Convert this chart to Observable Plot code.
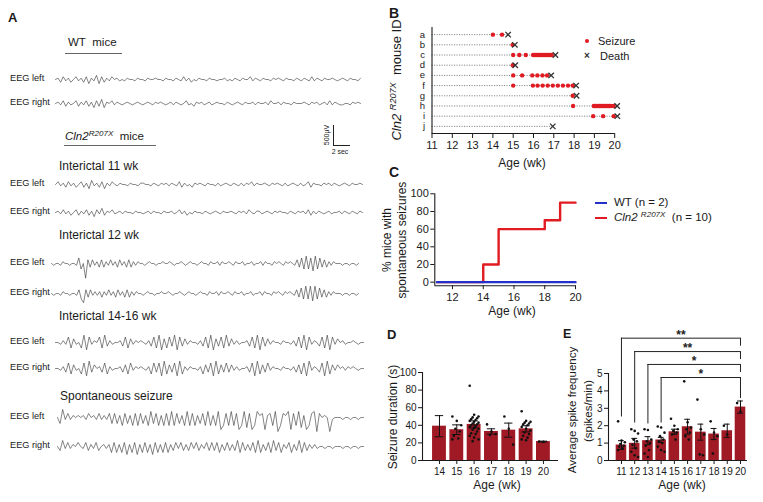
<!DOCTYPE html>
<html><head><meta charset="utf-8">
<script src="https://cdn.jsdelivr.net/npm/d3@7"></script>
<script src="https://cdn.jsdelivr.net/npm/@observablehq/plot@0.6"></script>
<style>
body{margin:0;background:#fff;}
#fig{position:relative;width:763px;height:502px;overflow:hidden;font-family:"Liberation Sans",Arial,sans-serif;color:#1a1a1a;background:#fff}
.t{position:absolute;white-space:nowrap;line-height:1}
.p{position:absolute}
.p svg{display:block;overflow:visible}
sup{font-size:0.7em;vertical-align:0.5em;line-height:0}
</style></head><body><div id="fig"></div>
<script>
// ---------------- DATA ----------------
// Panel A: EEG traces, one char per sample (digit d -> d-5; a..e -> -6..-10; A..E -> +5..+9)
const eegWTLeft   = "563746357463726482736475645465546554655655465546547463546554655455645465465574654655465654655465465474654655654565465546";
const eegWTRight  = "564736457364736273826574654565456545654656545646545745365645645655465456546556465564755646554655565465645647465445546565";
const eeg11Left   = "574637463573628463726475465546554665546546564654736453656546554645654654646574655654656546456546457365546564654565465565";
const eeg11Right  = "564746357364736274836574564655465545646554655645746354655465456546556546564754664565465655465465647364654564556465465465";
const eeg12Left   = "545546554554825c737463736474637463736465545655455655654556545655456554655646556546556455645564655465654656547382928192837364655545545545";
const eeg12Right  = "545546554554720737464636474637463736465545655455655654556545655456554655646556546556455645564655465654656547382929192837364655545545545";
const eeg1416Left = "554648274529184658293645563827465654638291728391837465546382917382937464556382918374655465546382918465382918475645565455";
const eeg1416Right= "554638274528193756382645563728465654628381927381926465546273819273837464556381927384655465546372819465381927475646565455";
const eegSzLeft   = "529474656564756474647272617261717261827161718172618171627181618a171817a1807a1867a6718b1768a71806a178b7565b4555455455455";
const eegSzRight  = "538474657547364735646272627162716272617262726374736374736473737263736382736372826372837264726382736464554554555455455455";

// Panel B: seizure onsets and death (weeks) per mouse
const mouseIds = ["a","b","c","d","e","f","g","h","i","j"];
const deathWeek = [14.75, 15.08, 17.08, 15.1, 16.87, 18.1, 18.12, 20.12, 20.13, 16.95];
const seizureA = [14.0, 14.45];
const seizureB = [14.97];
const seizureC = [15.0, 15.3, 15.62, 15.98, 16.05, 16.12, 16.19, 16.26, 16.33, 16.4, 16.47, 16.54, 16.61, 16.68, 16.75, 16.82, 16.9];
const seizureD = [14.98];
const seizureE = [15.0, 15.44, 15.94, 16.19, 16.44, 16.67];
const seizureF = [15.0, 15.97, 16.2, 16.45, 16.7, 16.95, 17.2, 17.45, 17.7, 17.93];
const seizureG = [17.93];
const seizureH = [17.95, 18.97, 19.04, 19.11, 19.18, 19.25, 19.32, 19.39, 19.46, 19.53, 19.6, 19.67, 19.74, 19.81, 19.95];
const seizureI = [18.94, 19.43, 19.95];
const seizureJ = [];
const ageTicksB = [11,12,13,14,15,16,17,18,19,20];

// Panel C: % mice with spontaneous seizures
const cStepWeeks = [11, 14, 15, 18, 19, 20];
const cCln2Pct = [0, 20, 60, 70, 90, 90];
const cWTWeeks = [11, 20];
const cWTPct = [0, 0];
const cXTicks = [12, 14, 16, 18, 20];
const cYTicks = [0, 20, 40, 60, 80, 100];

// Panel D: seizure duration (s)
const dWeeks = [14, 15, 16, 17, 18, 19, 20];
const dMean = [39, 35, 41, 33, 34.5, 36, 21.5];
const dSem = [12, 5.5, 4, 3, 8, 3.5, 0.5];
const dPoints = [
  [],
  [50, 45, 40, 36, 33, 28, 25, 24],
  [85, 52, 50, 49, 48, 47, 46, 45, 44, 43, 42, 41, 40, 39, 38, 37, 36, 35, 33, 31, 30, 28, 26, 24, 22],
  [41, 33, 30, 29],
  [50, 36, 18],
  [56, 45, 44, 43, 42, 41, 40, 38, 36, 34, 32, 30, 28, 26, 24, 23],
  [21.5, 21]
];
const dYTicks = [0, 20, 40, 60, 80, 100];

// Panel E: average spike frequency (spikes/min)
const eWeeks = [11, 12, 13, 14, 15, 16, 17, 18, 19, 20];
const eMean = [0.89, 0.99, 1.14, 1.18, 1.65, 1.94, 1.63, 1.52, 1.71, 3.07];
const eSem = [0.25, 0.28, 0.23, 0.15, 0.15, 0.43, 0.46, 0.32, 0.38, 0.35];
const ePoints = [
  [2.25, 1.15, 1.05, 0.95, 0.85, 0.8, 0.7, 0.6],
  [1.8, 1.7, 1.55, 1.2, 1.1, 0.9, 0.7, 0.5, 0.3, 0.2],
  [1.8, 1.75, 1.2, 1.1, 1.0, 0.85, 0.6, 0.4, 0.2],
  [1.95, 1.9, 1.6, 1.4, 1.2, 1.1, 1.0, 0.8, 0.6, 0.5],
  [2.4, 2.0, 1.8, 1.7, 1.6, 1.5, 1.2],
  [4.55, 2.2, 1.9, 1.8, 1.6, 1.4, 1.2],
  [3.5, 1.8, 1.5, 0.35, 0.3],
  [2.25, 1.6, 1.4, 0.4],
  [2.0, 1.5],
  [3.3, 2.8]
];
const eYTicks = [0, 1, 2, 3, 4, 5];
const bracketFrom = [11, 12, 13, 14];
const bracketTop = [7.03, 6.26, 5.52, 4.77];
const bracketLeftEnd = [2.5, 2.15, 2.1, 2.15];
const bracketRightEnd = [6.57, 5.8, 5.06, 3.56];
const bracketLabel = ["**", "**", "*", "*"];

// ---------------- HELPERS ----------------
const fig = document.getElementById("fig");
const FONT = '"Liberation Sans", Arial, sans-serif';
const RED = "#e01b22", BLUE = "#2431c8", BAR = "#a01a25", INK = "#1a1a1a";

function txt(x, y, html, {size = 12, weight = "normal", anchor = "start", rotate = 0, color = INK} = {}) {
  const d = document.createElement("div");
  d.className = "t";
  d.innerHTML = html;
  d.style.left = x + "px"; d.style.top = y + "px";
  d.style.fontSize = size + "px"; d.style.fontWeight = weight; d.style.color = color;
  if (rotate) {
    d.style.transform = `translate(-50%,-50%) rotate(${rotate}deg)`;
  } else {
    const tx = anchor === "middle" ? "-50%" : anchor === "end" ? "-100%" : "0";
    d.style.transform = `translate(${tx},-50%)`;
  }
  fig.appendChild(d);
  return d;
}
function box(x, y, w, h, css) {
  const d = document.createElement("div");
  d.style.position = "absolute";
  d.style.left = x + "px"; d.style.top = y + "px"; d.style.width = w + "px"; d.style.height = h + "px";
  Object.assign(d.style, css);
  fig.appendChild(d);
}
function place(el, left, top) {
  const w = document.createElement("div");
  w.className = "p"; w.style.left = left + "px"; w.style.top = top + "px";
  w.appendChild(el);
  fig.appendChild(w);
}
const style = (fs) => ({fontFamily: FONT, fontSize: fs + "px", color: INK, background: "transparent", overflow: "visible"});
const decode = c => (c >= "0" && c <= "9") ? (+c - 5) : (c >= "a" && c <= "e") ? -(c.charCodeAt(0) - 91) : (c.charCodeAt(0) - 60);

// ---------------- PANEL A ----------------
txt(8, 17, "A", {size: 13, weight: "bold"});
txt(68, 43, "WT&nbsp; mice", {size: 11.5});
box(65, 53, 57, 0, {borderTop: "1.4px solid #666"});
txt(65, 137, "<i>Cln2</i><sup><i>R207X</i></sup>&nbsp; mice", {size: 11.5});
box(64, 145, 92, 0, {borderTop: "1.4px solid #666"});
// scale bar
box(333, 125, 0, 20, {borderLeft: "1.2px solid #222"});
box(333, 144.5, 17, 0, {borderTop: "1.2px solid #222"});
txt(326, 135, "500µV", {size: 7, rotate: -90});
txt(340, 151, "2 sec", {size: 7, anchor: "middle"});

txt(59, 166, "Interictal 11 wk", {size: 12});
txt(59, 235, "Interictal 12 wk", {size: 12});
txt(59, 316, "Interictal 14-16 wk", {size: 12});
txt(60, 396, "Spontaneous seizure", {size: 12});

// [samples, label, centre y, left x, width, half-range of the y domain]
const traces = [
  [eegWTLeft, "EEG left", 79, 55, 305, 16],
  [eegWTRight, "EEG right", 103, 55, 305, 16],
  [eeg11Left, "EEG left", 184, 55, 307, 16],
  [eeg11Right, "EEG right", 212, 55, 307, 16],
  [eeg12Left, "EEG left", 263, 51, 307, 12],
  [eeg12Right, "EEG right", 293, 51, 307, 12],
  [eeg1416Left, "EEG left", 342, 55, 308, 12],
  [eeg1416Right, "EEG right", 368, 55, 308, 12],
  [eegSzLeft, "EEG left", 417, 57, 306, 11],
  [eegSzRight, "EEG right", 446, 57, 306, 11]
];
for (const [s, lab, cy, x0, w, half] of traces) {
  txt(10, cy, lab, {size: 9.2});
  const vals = Array.from(s, decode);
  const p = Plot.plot({
    width: w, height: 44, margin: 0,
    x: {domain: [0, vals.length - 1], axis: null},
    y: {domain: [-half, half], axis: null},
    style: style(10),
    marks: [Plot.lineY(vals, {stroke: "#333", strokeWidth: 0.6})]
  });
  place(p, x0, cy - 22);
}

// ---------------- PANEL B ----------------
txt(389, 13, "B", {size: 14, weight: "bold"});
const seizureLists = [seizureA, seizureB, seizureC, seizureD, seizureE, seizureF, seizureG, seizureH, seizureI, seizureJ];
const seizures = seizureLists.flatMap((l, i) => l.map(w => ({w, row: i})));
const deaths = deathWeek.map((w, i) => ({w, row: i}));
const plotB = Plot.plot({
  width: 250, height: 175, marginLeft: 51.5, marginRight: 15.8, marginTop: 27, marginBottom: 42,
  style: style(11),
  x: {domain: [11, 20], ticks: ageTicksB, tickSize: 5, tickPadding: 3, label: null, tickFormat: d => d},
  y: {domain: [-0.7, 9.7], reverse: true, axis: null},
  marks: [
    Plot.axisY({ticks: d3.range(10), tickSize: 0, tickPadding: 7, label: null, tickFormat: i => mouseIds[i], fontSize: 9.5}),
    Plot.ruleY(deaths, {y: "row", x1: 11, x2: "w", stroke: "#7a7a7a", strokeWidth: 0.9, strokeDasharray: "1.2,1.3"}),
    Plot.dot(seizures, {x: "w", y: "row", r: 2.2, fill: RED, stroke: "none"}),
    Plot.dot(deaths, {x: "w", y: "row", symbol: "times", r: 2.6, stroke: "#333", strokeWidth: 1.3}),
    Plot.ruleX([11], {stroke: INK, strokeWidth: 1.1}),
    Plot.ruleY([9.7], {stroke: INK, strokeWidth: 1.1})
  ]
});
place(plotB, 380, 0);
txt(396, 80, "<i>Cln2</i> <sup><i>R207X</i></sup>&nbsp; mouse ID", {size: 13, rotate: -90});
txt(522, 163, "Age (wk)", {size: 12, anchor: "middle"});
box(585, 39, 4.4, 4.4, {background: RED, borderRadius: "50%"});
txt(598, 41, "Seizure", {size: 11});
txt(587, 56, "×", {size: 10, anchor: "middle", weight: "bold", color: "#333"});
txt(600, 56, "Death", {size: 11});

// ---------------- PANEL C ----------------
txt(389, 172, "C", {size: 14, weight: "bold"});
const cCln2 = cStepWeeks.map((w, i) => ({w, p: cCln2Pct[i]}));
const cWT = cWTWeeks.map((w, i) => ({w, p: cWTPct[i]}));
const plotC = Plot.plot({
  width: 220, height: 140, marginLeft: 54.3, marginRight: 25, marginTop: 13.3, marginBottom: 34.8,
  style: style(11),
  x: {domain: [10.85, 20], ticks: cXTicks, tickSize: 4, tickPadding: 3, label: null, tickFormat: d => d},
  y: {domain: [-4, 100], ticks: cYTicks, tickSize: 4, tickPadding: 2, label: null, tickFormat: d => d},
  marks: [
    Plot.ruleX([10.85], {y1: -4, y2: 100, stroke: INK, strokeWidth: 1.1}),
    Plot.ruleY([-4], {stroke: INK, strokeWidth: 1.1}),
    Plot.line(cCln2, {x: "w", y: "p", curve: "step-after", stroke: RED, strokeWidth: 2.4}),
    Plot.line(cWT, {x: "w", y: "p", stroke: BLUE, strokeWidth: 2.4})
  ]
});
place(plotC, 380, 180);
txt(387, 240, "% mice with", {size: 12, rotate: -90});
txt(402, 240, "spontaneous seizures", {size: 12, rotate: -90});
txt(512, 311, "Age (wk)", {size: 12, anchor: "middle"});
box(595, 202, 12, 0, {borderTop: `2.5px solid ${BLUE}`});
box(595, 217, 12, 0, {borderTop: `2.5px solid ${RED}`});
txt(614, 203, "WT (n = 2)", {size: 11.5});
txt(614, 218, "<i>Cln2</i> <sup><i>R207X</i></sup>&nbsp; (n = 10)", {size: 11.5});

// ---------------- PANEL D ----------------
txt(387, 334, "D", {size: 13, weight: "bold"});
const dBars = dWeeks.map((w, i) => ({w, m: dMean[i], e: dSem[i]}));
const dDots = dPoints.flatMap((l, i) => l.map((v, j) => ({w: dWeeks[i], v, j})));
const jitter = j => (((j * 3) % 7) - 3) * 0.085;
const plotD = Plot.plot({
  width: 185, height: 177, marginLeft: 42, marginRight: 7, marginTop: 47, marginBottom: 42,
  style: style(10),
  x: {domain: [13.02, 20.87], ticks: dWeeks, tickSize: 4, tickPadding: 3, label: null, tickFormat: d => d},
  y: {domain: [0, 100], ticks: dYTicks, tickSize: 4, tickPadding: 2, label: null, tickFormat: d => d},
  marks: [
    Plot.rectY(dBars, {x1: d => d.w - 0.4, x2: d => d.w + 0.4, y: "m", fill: BAR}),
    Plot.ruleX(dBars, {x: "w", y1: d => d.m - d.e, y2: d => d.m + d.e, stroke: "#111", strokeWidth: 1}),
    Plot.ruleY(dBars, {y: d => d.m + d.e, x1: d => d.w - 0.24, x2: d => d.w + 0.24, stroke: "#111", strokeWidth: 1}),
    Plot.ruleY(dBars, {y: d => d.m - d.e, x1: d => d.w - 0.24, x2: d => d.w + 0.24, stroke: "#111", strokeWidth: 1}),
    Plot.dot(dDots, {x: d => d.w + jitter(d.j), y: "v", r: 1.3, fill: "#111", stroke: "none"}),
    Plot.ruleX([13.02], {stroke: INK, strokeWidth: 1.1}),
    Plot.ruleY([0], {stroke: INK, strokeWidth: 1.1})
  ]
});
place(plotD, 380, 325);
txt(393, 417, "Seizure duration (s)", {size: 12, rotate: -90});
txt(497, 485, "Age (wk)", {size: 12, anchor: "middle"});

// ---------------- PANEL E ----------------
txt(563, 334, "E", {size: 12.5, weight: "bold"});
const eBars = eWeeks.map((w, i) => ({w, m: eMean[i], e: eSem[i]}));
const eDots = ePoints.flatMap((l, i) => l.map((v, j) => ({w: eWeeks[i], v, j})));
const brackets = bracketFrom.map((f, i) => ({f, top: bracketTop[i], le: bracketLeftEnd[i], re: bracketRightEnd[i], lab: bracketLabel[i]}));
const plotE = Plot.plot({
  width: 203, height: 177, marginLeft: 48, marginRight: 16, marginTop: 48, marginBottom: 42,
  style: style(10),
  x: {domain: [10.02, 20.53], ticks: eWeeks, tickSize: 4, tickPadding: 3, label: null, tickFormat: d => d},
  y: {domain: [0, 5], ticks: eYTicks, tickSize: 4, tickPadding: 2, label: null, tickFormat: d => d},
  marks: [
    Plot.rectY(eBars, {x1: d => d.w - 0.4, x2: d => d.w + 0.4, y: "m", fill: BAR}),
    Plot.ruleX(eBars, {x: "w", y1: d => d.m - d.e, y2: d => d.m + d.e, stroke: "#111", strokeWidth: 1}),
    Plot.ruleY(eBars, {y: d => d.m + d.e, x1: d => d.w - 0.22, x2: d => d.w + 0.22, stroke: "#111", strokeWidth: 1}),
    Plot.ruleY(eBars, {y: d => d.m - d.e, x1: d => d.w - 0.22, x2: d => d.w + 0.22, stroke: "#111", strokeWidth: 1}),
    Plot.dot(eDots, {x: d => d.w + jitter(d.j), y: "v", r: 1.3, fill: "#111", stroke: "none"}),
    Plot.ruleY(brackets, {y: "top", x1: "f", x2: 20, stroke: "#222", strokeWidth: 1}),
    Plot.ruleX(brackets, {x: "f", y1: "le", y2: "top", stroke: "#222", strokeWidth: 1}),
    Plot.ruleX(brackets, {x: 20, y1: "re", y2: "top", stroke: "#222", strokeWidth: 1}),
    Plot.text(brackets, {x: d => (d.f + 20) / 2, y: "top", text: "lab", dy: -3, fontSize: 12, fontWeight: "bold", fill: "#222"}),
    Plot.ruleX([10.02], {y1: 0, y2: 5, stroke: INK, strokeWidth: 1.1}),
    Plot.ruleY([0], {stroke: INK, strokeWidth: 1.1})
  ]
});
place(plotE, 560, 325);
txt(573, 410, "Average spike frequency", {size: 11.5, rotate: -90});
txt(589, 411, "(spikes/min)", {size: 11.5, rotate: -90});
txt(682, 485, "Age (wk)", {size: 12, anchor: "middle"});
</script></body></html>
